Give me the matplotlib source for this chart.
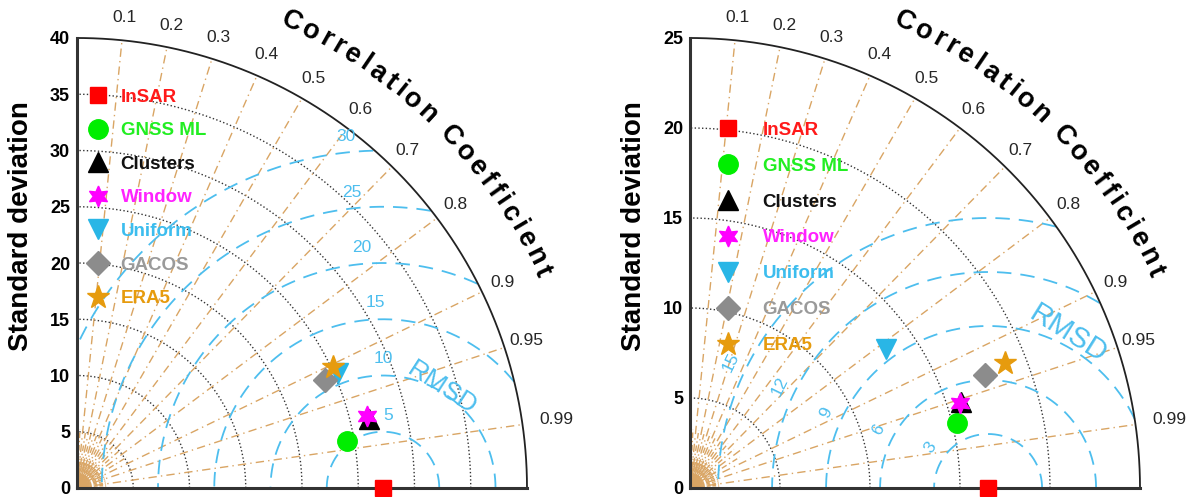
import numpy as np
import matplotlib.pyplot as plt

plt.rcParams['font.family'] = ['Liberation Sans', 'DejaVu Sans']

# ---- data ----
names = ['InSAR', 'GNSS ML', 'Clusters', 'Window', 'Uniform', 'GACOS', 'ERA5']
std_left = [27.2, 24.36, 26.67, 26.56, 25.35, 24.04, 25.17]
cor_left = [1.0, 0.985, 0.973, 0.9706, 0.915, 0.917, 0.904]
std_right = [16.56, 15.27, 15.8, 15.73, 13.35, 17.55, 18.83]
cor_right = [1.0, 0.9716, 0.953, 0.954, 0.816, 0.934, 0.9295]

cor_ticks = [0.1, 0.2, 0.3, 0.4, 0.5, 0.6, 0.7, 0.8, 0.9, 0.95, 0.99]
std_ticks_left = [0, 5, 10, 15, 20, 25, 30, 35, 40]
std_ticks_right = [0, 5, 10, 15, 20, 25]
rms_left = [5, 10, 15, 20, 25, 30]
rms_right = [3, 6, 9, 12, 15]

# marker styles / colours
markers = ['s', 'o', '^', (6, 1, 0), 'v', 'D', '*']
msizes = [11, 14, 15, 15, 15, 12, 17]
colors = ['#ff0000', '#00ee00', '#000000', '#ff00ff', '#29b6e6', '#8c8c8c', '#e69b0e']
text_colors = ['#ff1a1a', '#22ee22', '#111111', '#ff22ff', '#3cbdee', '#9a9a9a', '#e69b0e']

COR_C = '#d9a564'
RMS_C = '#4dbeee'


def taylor(ax, R, std_ticks, rms, std, cor, rms_lab, rmsd_lab, leg):
    ax.set_xlim(0, R)
    ax.set_ylim(0, R)
    ax.set_aspect('equal')
    for s in ['top', 'right']:
        ax.spines[s].set_visible(False)
    for s in ['left', 'bottom']:
        ax.spines[s].set_linewidth(2.2)
        ax.spines[s].set_color('#333333')
    ax.set_xticks([])
    ax.set_yticks(std_ticks)
    ax.set_yticklabels([str(v) for v in std_ticks], fontsize=13, fontweight='bold')
    ax.tick_params(axis='y', length=0, pad=5)

    t = np.linspace(0, np.pi / 2, 300)
    # std circles
    for s in std_ticks[1:-1]:
        ax.plot(s * np.cos(t), s * np.sin(t), ':', color='#333333', lw=1.0, zorder=1)
    # outer arc
    ax.plot(R * np.cos(t), R * np.sin(t), '-', color='#222222', lw=1.3, zorder=2, clip_on=False)

    # correlation lines
    for c in cor_ticks:
        a = np.arccos(c)
        ax.plot([0, R * np.cos(a)], [0, R * np.sin(a)], color=COR_C, lw=1.0,
                linestyle=(0, (6, 3, 1, 3)), zorder=1)
        rr = 1.075 * R if c == 0.99 else 1.05 * R
        ax.text(rr * np.cos(a), rr * np.sin(a), str(c), fontsize=12.5, color='#262626',
                ha='center', va='center', clip_on=False)
    # short extra lines near the origin
    for c in np.arange(0.05, 0.9, 0.1):
        a = np.arccos(c)
        ax.plot([0, 0.13 * R * np.cos(a)], [0, 0.13 * R * np.sin(a)], color=COR_C, lw=1.0,
                linestyle=(0, (4, 2, 1, 2)), zorder=1)
    for a in np.radians(np.arange(2, 90, 4)):
        ax.plot([0, 0.065 * R * np.cos(a)], [0, 0.065 * R * np.sin(a)], color=COR_C,
                lw=0.9, linestyle=(0, (3, 1.5)), zorder=1)
    ax.add_patch(plt.Circle((0, 0), 0.025 * R, color=COR_C, zorder=1, clip_on=True))

    # RMSD circles around reference
    ref = std[0]
    th = np.linspace(0, np.pi, 600)
    for r in rms:
        x = ref + r * np.cos(th)
        y = r * np.sin(th)
        m = (x < 0) | (x ** 2 + y ** 2 > R ** 2)
        x = np.where(m, np.nan, x)
        y = np.where(m, np.nan, y)
        ax.plot(x, y, color=RMS_C, lw=1.3, linestyle=(0, (8, 5)), zorder=1)
    for r, (ang, off, rot) in zip(rms, rms_lab):
        a = np.radians(ang)
        ax.text(ref + (r + off) * np.cos(a), (r + off) * np.sin(a), str(r), color=RMS_C,
                fontsize=12.5, ha='center', va='center', rotation=rot)
    rr, ang, rot, fs = rmsd_lab
    a = np.radians(ang)
    ax.text(ref + rr * np.cos(a), rr * np.sin(a), 'RMSD', color=RMS_C, fontsize=fs,
            ha='center', va='center', rotation=rot)

    # points
    handles = []
    for i in range(len(names)):
        a = np.arccos(cor[i])
        h, = ax.plot(std[i] * np.cos(a), std[i] * np.sin(a), linestyle='none',
                     marker=markers[i], ms=msizes[i], color=colors[i],
                     markeredgecolor=colors[i], zorder=5, clip_on=False, label=names[i])
        handles.append(h)

    bx, by, sp, pad = leg
    ax.legend(handles=handles, loc='upper left', bbox_to_anchor=(bx, by), frameon=False,
              borderpad=0, borderaxespad=0, handlelength=1.0, handletextpad=pad,
              labelspacing=sp, labelcolor=text_colors,
              prop={'weight': 'bold', 'size': 13.5})

    # curved axis title
    title = 'Correlation Coefficient'
    wd = {'C': .722, 'o': .611, 'r': .389, 'e': .556, 'l': .278, 'a': .556,
          't': .333, 'i': .278, 'n': .611, 'f': .333, 'c': .556, ' ': .278}
    w = np.array([wd[ch] for ch in title]) + 0.19
    cen = np.cumsum(w) - w / 2
    cen = (cen - cen[0]) / (cen[-1] - cen[0])
    angs = 65.3 + (25.0 - 65.3) * cen
    for ch, ang in zip(title, angs):
        a = np.radians(ang)
        ax.text(1.14 * R * np.cos(a), 1.14 * R * np.sin(a), ch, fontsize=19.5,
                fontweight='bold', ha='center', va='center', rotation=ang - 90,
                rotation_mode='anchor', clip_on=False)

    ax.set_ylabel('Standard deviation', fontsize=20, fontweight='bold')
    ax.yaxis.label.set_va('center')
    ax.yaxis.set_label_coords(-0.124, 0.582)


fig = plt.figure(figsize=(11.95, 4.97), dpi=100)
ax1 = fig.add_axes([77 / 1195, 9 / 497, 450 / 1195, 450 / 497])
ax2 = fig.add_axes([690 / 1195, 9 / 497, 450 / 1195, 450 / 497])

lab_left = [(86, 1.5, 0), (90, 1.5, 0), (92.5, 1.5, 0), (95, 1.5, 0), (96, 1.4, 0), (96, 1.4, 0)]
lab_right = [(145, 0.9, 55), (152, 0.9, 62), (155, 0.9, 65), (154, 0.9, 64), (154, 0.9, 64)]

taylor(ax1, 40, std_ticks_left, rms_left, std_left, cor_left, lab_left,
       (10.3, 59.5, -33, 19), (0.026, 0.888, 0.88, 0.7))
taylor(ax2, 25, std_ticks_right, rms_right, std_right, cor_right, lab_right,
       (9.64, 62.5, -32, 21), (0.064, 0.814, 1.0, 1.34))

fig.savefig('out.png', dpi=100)
